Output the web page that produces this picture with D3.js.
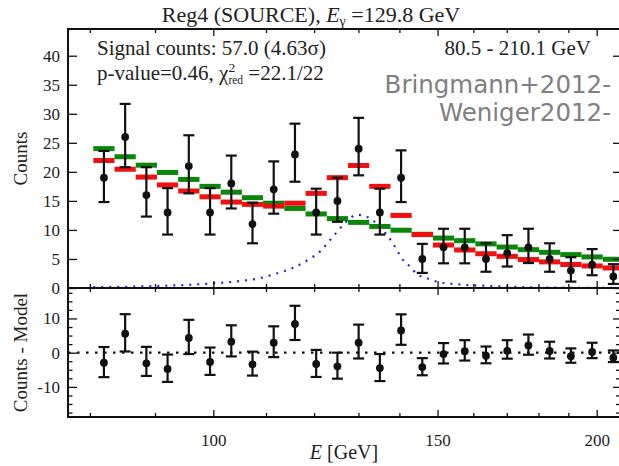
<!DOCTYPE html>
<html>
<head>
<meta charset="utf-8">
<script src="https://cdn.jsdelivr.net/npm/d3@7"></script>
<style>
  html, body { margin: 0; padding: 0; background: #fff; }
  svg { display: block; }
</style>
</head>
<body>
<svg id="chart" width="619" height="466"></svg>
<script>
// Energy bin edges (GeV), log-spaced over the 80.5 - 210.1 GeV window
const binEdges = [80.5, 83.65, 86.92, 90.32, 93.85, 97.53, 101.34, 105.31, 109.42, 113.71,
  118.15, 122.78, 127.58, 132.57, 137.76, 143.14, 148.74, 154.56, 160.61, 166.89,
  173.42, 180.20, 187.25, 194.58, 202.19, 210.1];

// Observed counts per bin and their (asymmetric) error bars
const counts  = [19, 26, 16, 13, 21, 13, 18, 11, 17, 23, 13, 15, 24, 13, 19, 5, 7, 7, 5, 6, 7, 5, 3, 4, 2];
const errUp   = [4.6, 5.7, 4.8, 4.2, 5.3, 4.2, 4.8, 3.7, 4.8, 5.3, 4.1, 4.0, 5.3, 4.1, 4.7, 2.6, 3.2, 3.2, 2.7, 3.1, 3.2, 2.7, 2.3, 2.7, 2.1];
const errDown = [4.2, 5.2, 3.7, 3.8, 4.7, 3.8, 4.3, 3.3, 4.2, 4.7, 3.8, 3.6, 4.6, 3.8, 4.2, 2.4, 2.75, 2.75, 2.2, 2.3, 2.7, 2.2, 1.9, 1.8, 1.3];

// Best-fit model with the line (red) and background-only model (green)
const modelTotal = [21.95, 20.45, 19.1, 17.75, 16.7, 15.7, 14.8, 14.4, 14.1, 14.6, 16.3, 19.0, 21.1,
  17.5, 12.5, 9.2, 7.4, 6.55, 5.9, 5.45, 4.9, 4.5, 4.05, 3.8, 3.45];
const modelBkg = [24.0, 22.6, 21.15, 19.9, 18.7, 17.5, 16.5, 15.55, 14.6, 13.7, 12.75, 11.95, 11.3,
  10.6, 9.95, 9.25, 8.6, 8.15, 7.6, 7.05, 6.6, 6.15, 5.75, 5.35, 4.95];

// Line signal component (counts vs energy)
const signalE      = [80.5, 89, 100, 105, 108.8, 112.1, 115.6, 118.8, 121.3, 123.1, 125, 126.5, 128, 129.7,
  131.5, 133.5, 135.6, 137.2, 138.9, 140.6, 142.7, 144.5, 147.1, 149.8, 156.3, 164.9, 171.6, 187, 210.1];
const signalCounts = [0.15, 0.3, 0.8, 1.2, 1.7, 2.5, 3.5, 4.9, 6.3, 7.9, 9.6, 10.9, 12.0, 12.6,
  12.4, 11.6, 10.1, 8.85, 7.1, 5.1, 3.7, 2.4, 1.7, 1.1, 0.6, 0.35, 0.2, 0.05, 0.02];

// Tick values
const countTicks       = [0, 5, 10, 15, 20, 25, 30, 35, 40];
const residTicksMajor  = [-10, 0, 10];
const residTicksMinor  = [-17.5, -15, -12.5, -7.5, -5, -2.5, 2.5, 5, 7.5, 12.5, 15, 17.5];
const energyTicksMajor = [100, 150, 200];
const energyTicksMinor = [80, 90, 110, 120, 130, 140, 160, 170, 180, 190];

const serif = "'Liberation Serif', 'DejaVu Serif', serif";
const svg = d3.select("#chart");

// Scales: log energy axis shared by both panels
const x    = d3.scaleLog().domain([76.9, 210.5]).range([68, 625]);
const yTop = d3.scaleLinear().domain([0, 44.6]).range([288, 29]);
const yRes = d3.scaleLinear().domain([-18.8, 18.9]).range([417, 288]);

const bins = counts.map((c, i) => ({
  lo: binEdges[i], hi: binEdges[i + 1],
  E: Math.sqrt(binEdges[i] * binEdges[i + 1]),
  c, up: errUp[i], dn: errDown[i],
  tot: modelTotal[i], bkg: modelBkg[i],
  res: c - modelTotal[i]
}));

const [xL, xR] = x.range();

// ---------- Upper panel: counts ----------
const upper = svg.append("g");
const barH = 5;
upper.selectAll("rect.bkg").data(bins).join("rect")
  .attr("x", d => x(d.lo)).attr("width", d => x(d.hi) - x(d.lo))
  .attr("y", d => yTop(d.bkg) - barH / 2).attr("height", barH)
  .attr("fill", "#0a860a");
upper.selectAll("rect.tot").data(bins).join("rect")
  .attr("x", d => x(d.lo)).attr("width", d => x(d.hi) - x(d.lo))
  .attr("y", d => yTop(d.tot) - barH / 2).attr("height", barH)
  .attr("fill", "#f01010");

const sigLine = d3.line().x(d => x(d[0])).y(d => yTop(d[1])).curve(d3.curveMonotoneX);
upper.append("path")
  .datum(signalE.map((e, i) => [e, signalCounts[i]]))
  .attr("d", sigLine)
  .attr("fill", "none").attr("stroke", "#2626d6")
  .attr("stroke-width", 2.2).attr("stroke-dasharray", "2,6");

function errorBars(g, scale, key) {
  const cap = 5.5;
  const eb = g.selectAll("g.eb").data(bins).join("g").attr("class", "eb");
  eb.append("line")
    .attr("x1", d => x(d.E)).attr("x2", d => x(d.E))
    .attr("y1", d => scale(d[key] + d.up)).attr("y2", d => scale(d[key] - d.dn));
  eb.append("line")
    .attr("x1", d => x(d.E) - cap).attr("x2", d => x(d.E) + cap)
    .attr("y1", d => scale(d[key] + d.up)).attr("y2", d => scale(d[key] + d.up));
  eb.append("line")
    .attr("x1", d => x(d.E) - cap).attr("x2", d => x(d.E) + cap)
    .attr("y1", d => scale(d[key] - d.dn)).attr("y2", d => scale(d[key] - d.dn));
  eb.selectAll("line").attr("stroke", "#111").attr("stroke-width", 2.2);
  eb.append("circle")
    .attr("cx", d => x(d.E)).attr("cy", d => scale(d[key])).attr("r", 3.9)
    .attr("fill", "#111");
}
errorBars(upper, yTop, "c");

// ---------- Lower panel: residuals ----------
const lower = svg.append("g");
lower.append("line")
  .attr("x1", xL).attr("x2", xR).attr("y1", yRes(0)).attr("y2", yRes(0))
  .attr("stroke", "#111").attr("stroke-width", 2.2).attr("stroke-dasharray", "2.5,6.5");
errorBars(lower, yRes, "res");

// ---------- Frames and ticks ----------
function styleAxis(g, fontSize) {
  g.select(".domain").remove();
  g.selectAll(".tick line").attr("stroke", "#111").attr("stroke-width", 1.3);
  g.selectAll(".tick text").attr("font-family", serif).attr("font-size", fontSize).attr("fill", "#222");
}
const fmt = d => String(d);

// Upper panel y ticks
svg.append("g").attr("transform", `translate(${xL},0)`)
  .call(d3.axisLeft(yTop).tickValues(countTicks).tickSize(-9).tickPadding(8).tickFormat(fmt))
  .call(g => styleAxis(g, 17));
svg.append("g").attr("transform", `translate(${xR},0)`)
  .call(d3.axisRight(yTop).tickValues(countTicks).tickSize(-12).tickFormat(""))
  .call(g => styleAxis(g, 17));

// Lower panel y ticks
svg.append("g").attr("transform", `translate(${xL},0)`)
  .call(d3.axisLeft(yRes).tickValues(residTicksMajor).tickSize(-9).tickPadding(8).tickFormat(fmt))
  .call(g => styleAxis(g, 17));
svg.append("g").attr("transform", `translate(${xL},0)`)
  .call(d3.axisLeft(yRes).tickValues(residTicksMinor).tickSize(-4.5).tickFormat(""))
  .call(g => styleAxis(g, 17));
svg.append("g").attr("transform", `translate(${xR},0)`)
  .call(d3.axisRight(yRes).tickValues(residTicksMajor).tickSize(-12).tickFormat(""))
  .call(g => styleAxis(g, 17));
svg.append("g").attr("transform", `translate(${xR},0)`)
  .call(d3.axisRight(yRes).tickValues(residTicksMinor).tickSize(-9).tickFormat(""))
  .call(g => styleAxis(g, 17));

// Energy ticks on every horizontal frame edge (pointing inward)
function energyTicks(y, dir, labels) {
  const mk = dir === "down" ? d3.axisTop : d3.axisBottom;
  svg.append("g").attr("transform", `translate(0,${y})`)
    .call(mk(x).tickValues(energyTicksMajor).tickSize(-7).tickPadding(labels ? 17 : 0)
      .tickFormat(labels ? fmt : ""))
    .call(g => styleAxis(g, 17));
  svg.append("g").attr("transform", `translate(0,${y})`)
    .call(mk(x).tickValues(energyTicksMinor).tickSize(-4).tickFormat(""))
    .call(g => styleAxis(g, 17));
}
energyTicks(yTop.range()[1], "down", false);
energyTicks(yTop.range()[0], "up", false);
energyTicks(yRes.range()[1], "down", false);
energyTicks(yRes.range()[0], "up", true);

svg.append("rect")
  .attr("x", xL).attr("y", yTop.range()[1]).attr("width", xR - xL).attr("height", yTop.range()[0] - yTop.range()[1])
  .attr("fill", "none").attr("stroke", "#111").attr("stroke-width", 2);
svg.append("rect")
  .attr("x", xL).attr("y", yRes.range()[1]).attr("width", xR - xL).attr("height", yRes.range()[0] - yRes.range()[1])
  .attr("fill", "none").attr("stroke", "#111").attr("stroke-width", 2);

// ---------- Text ----------
const txtColor = "#222";

// Title
const title = svg.append("text")
  .attr("x", 311).attr("y", 22).attr("text-anchor", "middle")
  .attr("font-family", serif).attr("font-size", 22).attr("fill", txtColor);
title.append("tspan").text("Reg4 (SOURCE), ");
title.append("tspan").attr("font-style", "italic").text("E");
title.append("tspan").attr("font-size", 14).attr("dy", 4).text("γ");
title.append("tspan").attr("dy", -4).text(" =129.8 GeV");

// Fit summary
svg.append("text")
  .attr("x", 97).attr("y", 55)
  .attr("font-family", serif).attr("font-size", 21).attr("fill", txtColor)
  .text("Signal counts: 57.0 (4.63σ)");

const pv = svg.append("text")
  .attr("x", 97).attr("y", 80)
  .attr("font-family", serif).attr("font-size", 21).attr("fill", txtColor);
pv.append("tspan").text("p-value=0.46, χ");
const sup = pv.append("tspan").attr("font-size", 13.5).attr("dy", -8).text("2");
const supW = sup.node().getComputedTextLength();
pv.append("tspan").attr("font-size", 11.5).attr("dx", -supW).attr("dy", 12).text("red");
pv.append("tspan").attr("dy", -4).text(" =22.1/22");

svg.append("text")
  .attr("x", 591).attr("y", 55).attr("text-anchor", "end")
  .attr("font-family", serif).attr("font-size", 21).attr("fill", txtColor)
  .text("80.5 - 210.1 GeV");

// Reference labels on white backing
const refs = ["Bringmann+2012-", "Weniger2012-"];
refs.forEach((r, i) => {
  const t = svg.append("text")
    .attr("x", 611).attr("y", 93 + i * 28).attr("text-anchor", "end")
    .attr("font-family", "'DejaVu Sans', sans-serif").attr("font-size", 24.5)
    .attr("fill", "#808080").text(r);
  const bb = t.node().getBBox();
  svg.insert("rect", () => t.node())
    .attr("x", bb.x - 2).attr("y", bb.y + 4).attr("width", 619 - bb.x + 2).attr("height", bb.height - 6)
    .attr("fill", "#fff");
});

// Axis labels
svg.append("text")
  .attr("transform", `translate(27,${(yTop.range()[0] + yTop.range()[1]) / 2}) rotate(-90)`)
  .attr("text-anchor", "middle")
  .attr("font-family", serif).attr("font-size", 19).attr("fill", txtColor)
  .text("Counts");
svg.append("text")
  .attr("transform", `translate(27,${(yRes.range()[0] + yRes.range()[1]) / 2}) rotate(-90)`)
  .attr("text-anchor", "middle")
  .attr("font-family", serif).attr("font-size", 19).attr("fill", txtColor)
  .text("Counts - Model");

const xl = svg.append("text")
  .attr("x", 344).attr("y", 459).attr("text-anchor", "middle")
  .attr("font-family", serif).attr("font-size", 20).attr("fill", txtColor);
xl.append("tspan").attr("font-style", "italic").text("E");
xl.append("tspan").text(" [GeV]");
</script>
</body>
</html>
